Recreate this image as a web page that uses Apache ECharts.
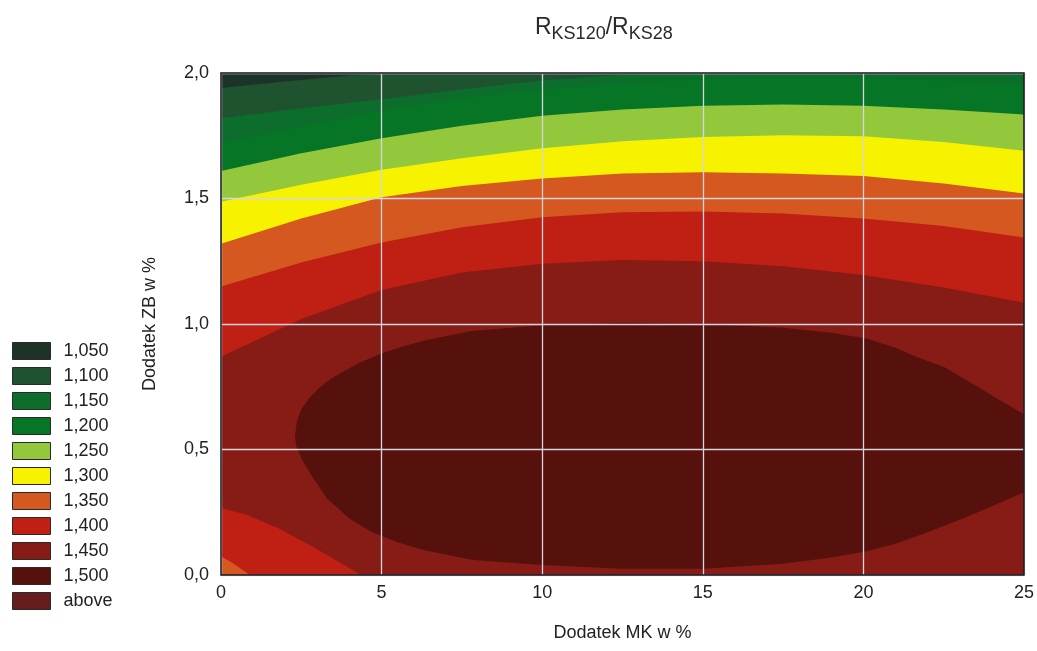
<!DOCTYPE html>
<html>
<head>
<meta charset="utf-8">
<script src="https://cdn.jsdelivr.net/npm/echarts@6/dist/echarts.min.js"></script>
<style>
  html, body { margin: 0; padding: 0; background: #ffffff; }
  #chart { width: 1037px; height: 651px; }
</style>
</head>
<body>
<div id="chart"></div>
<script>
// Axis ticks and their printed labels (decimal comma)
const xTicks = [0, 5, 10, 15, 20, 25];
const xTickLabels = ['0', '5', '10', '15', '20', '25'];
const yTicks = [0, 0.5, 1.0, 1.5, 2.0];
const yTickLabels = ['0,0', '0,5', '1,0', '1,5', '2,0'];

// Contour classes: each name is the upper limit of its band
const bandNames = ['1,050', '1,100', '1,150', '1,200', '1,250', '1,300', '1,350', '1,400', '1,450', '1,500', 'above'];
const bandColors = ['#1d3328', '#1f5330', '#0c6d2c', '#067526', '#93c83c', '#f6f200', '#d4581f', '#c01f14', '#861c15', '#56110d', '#661b1d'];

// Iso-lines of R_KS120/R_KS28 as [MK %, ZB %] points, left to right
const iso105 = [[0, 1.94], [1, 1.953], [2, 1.966], [3, 1.978], [4, 1.99], [5.5, 2.0]];
const iso110 = [[0, 1.82], [2.5, 1.86], [5, 1.895], [7.5, 1.935], [10, 1.97], [12.5, 1.993], [14, 2.0]];
const iso115 = [[0, 1.72], [2.5, 1.79], [5, 1.85], [7.5, 1.90], [10, 1.935], [12.5, 1.96], [15, 1.975], [17.5, 1.98], [20, 1.978], [22.5, 1.97], [25, 1.96]];
const iso120 = [[0, 1.61], [2.5, 1.68], [5, 1.74], [7.5, 1.79], [10, 1.83], [12.5, 1.855], [15, 1.87], [17.5, 1.875], [20, 1.87], [22.5, 1.855], [25, 1.835]];
const iso125 = [[0, 1.487], [2.5, 1.555], [5, 1.615], [7.5, 1.66], [10, 1.70], [12.5, 1.728], [15, 1.745], [17.5, 1.752], [20, 1.748], [22.5, 1.725], [25, 1.69]];
const iso130 = [[0, 1.32], [2.5, 1.42], [5, 1.505], [7.5, 1.55], [10, 1.58], [12.5, 1.60], [15, 1.605], [17.5, 1.60], [20, 1.59], [22.5, 1.56], [25, 1.52]];
const iso135 = [[0, 1.149], [2.5, 1.245], [5, 1.325], [7.5, 1.385], [10, 1.425], [12.5, 1.445], [15, 1.448], [17.5, 1.44], [20, 1.42], [22.5, 1.39], [25, 1.345]];
const iso135Corner = [[0, 0.075], [0.4, 0.045], [0.9, 0]];
const iso140 = [[0, 0.87], [2.5, 1.02], [5, 1.135], [7.5, 1.205], [10, 1.24], [12.5, 1.255], [15, 1.25], [17.5, 1.23], [20, 1.195], [22.5, 1.145], [25, 1.085]];
const iso140Corner = [[0, 0.267], [0.8, 0.24], [1.8, 0.185], [2.9, 0.11], [3.9, 0.035], [4.35, 0]];
// Closed 1,45 iso-line: upper arc (left tip to right edge), lower arc (right edge back to tip)
const iso145Upper = [[2.3, 0.55], [2.36, 0.61], [2.5, 0.66], [2.75, 0.705], [3.05, 0.745], [3.4, 0.78], [3.8, 0.81], [4.3, 0.845], [4.95, 0.88], [5.6, 0.908], [6.3, 0.933], [7.8, 0.972], [10, 0.995], [12.5, 1.005], [15, 1.0], [17.5, 0.985], [19, 0.965], [20.1, 0.942], [21, 0.905], [21.6, 0.872], [22.5, 0.83], [23.1, 0.785], [24.2, 0.70], [25, 0.64]];
const iso145Lower = [[25, 0.33], [24.2, 0.285], [23.1, 0.225], [22, 0.17], [21, 0.125], [20.1, 0.095], [19, 0.07], [17.5, 0.045], [15, 0.025], [12.5, 0.025], [10, 0.04], [7.85, 0.06], [6.3, 0.1], [5.5, 0.13], [4.7, 0.17], [4, 0.225], [3.3, 0.305], [2.85, 0.39], [2.52, 0.46], [2.35, 0.51]];

const X0 = xTicks[0], X1 = xTicks[xTicks.length - 1];
const Y0 = yTicks[0], Y1 = yTicks[yTicks.length - 1];

// Area lying under an iso-line (values above its level), optionally cut by a corner iso-line
function regionBelow(line, corner) {
  const pts = line.slice();
  const last = line[line.length - 1];
  if (last[0] < X1) pts.push([X1, Y1]);
  pts.push([X1, Y0]);
  if (corner) pts.push(...corner.slice().reverse());
  else pts.push([X0, Y0]);
  return pts;
}

const regions = [
  [[X0, Y0], [X0, Y1], [X1, Y1], [X1, Y0]],
  regionBelow(iso105),
  regionBelow(iso110),
  regionBelow(iso115),
  regionBelow(iso120),
  regionBelow(iso125),
  regionBelow(iso130),
  regionBelow(iso135, iso135Corner),
  regionBelow(iso140, iso140Corner),
  iso145Upper.concat(iso145Lower),
  []
];

const FONT = 'Liberation Sans, Arial, sans-serif';

const series = bandNames.map((name, i) => ({
  type: 'custom',
  name: name,
  coordinateSystem: 'cartesian2d',
  silent: true,
  animation: false,
  itemStyle: { color: bandColors[i] },
  data: regions[i],
  renderItem: function (params, api) {
    if (params.dataIndex !== 0) return null;
    return {
      type: 'polygon',
      shape: { points: regions[i].map(p => api.coord(p)) },
      style: { fill: bandColors[i] }
    };
  }
}));

const chart = echarts.init(document.getElementById('chart'), null, { renderer: 'canvas' });
chart.setOption({
  backgroundColor: '#ffffff',
  animation: false,
  title: {
    text: '{r|R}{s|KS120}{r|/R}{s|KS28}',
    left: 535,
    top: 16,
    padding: 0,
    textStyle: {
      fontWeight: 'normal',
      rich: {
        r: { fontFamily: FONT, fontSize: 23, fontWeight: 'normal', color: '#2a2a2a', lineHeight: 24, verticalAlign: 'top' },
        s: { fontFamily: FONT, fontSize: 18, fontWeight: 'normal', color: '#2a2a2a', lineHeight: 27, verticalAlign: 'bottom' }
      }
    }
  },
  legend: {
    data: bandNames,
    orient: 'vertical',
    left: 7,
    top: 337,
    itemWidth: 38,
    itemHeight: 17,
    itemGap: 7,
    icon: 'rect',
    selectedMode: false,
    itemStyle: { borderColor: '#2a2a2a', borderWidth: 1 },
    textStyle: { fontFamily: FONT, fontSize: 18, color: '#222', lineHeight: 17, padding: [0, 0, 0, 8] }
  },
  grid: {
    left: 221, right: 13, top: 73, bottom: 76,
    show: true,
    backgroundColor: 'transparent',
    borderColor: '#15151c',
    borderWidth: 1.5,
    z: 10
  },
  xAxis: {
    type: 'value',
    min: X0, max: X1, interval: 5,
    z: 5,
    name: 'Dodatek MK w %',
    nameLocation: 'middle',
    nameGap: 49,
    nameTextStyle: { fontFamily: FONT, fontSize: 18, color: '#222' },
    axisLine: { show: false },
    axisTick: { show: false },
    axisLabel: {
      margin: 9, fontFamily: FONT, fontSize: 18, color: '#222',
      formatter: v => xTickLabels[xTicks.findIndex(t => Math.abs(t - v) < 1e-9)]
    },
    splitLine: { show: true, lineStyle: { color: '#d6d6e0', width: 1.3 } }
  },
  yAxis: {
    type: 'value',
    min: Y0, max: Y1, interval: 0.5,
    z: 5,
    name: 'Dodatek ZB w %',
    nameLocation: 'middle',
    nameGap: 62,
    nameTextStyle: { fontFamily: FONT, fontSize: 18, color: '#222' },
    axisLine: { show: false },
    axisTick: { show: false },
    axisLabel: {
      margin: 12, fontFamily: FONT, fontSize: 18, color: '#222',
      formatter: v => yTickLabels[yTicks.findIndex(t => Math.abs(t - v) < 1e-9)]
    },
    splitLine: { show: true, lineStyle: { color: '#d6d6e0', width: 1.3 } }
  },
  series: series
});
</script>
</body>
</html>
